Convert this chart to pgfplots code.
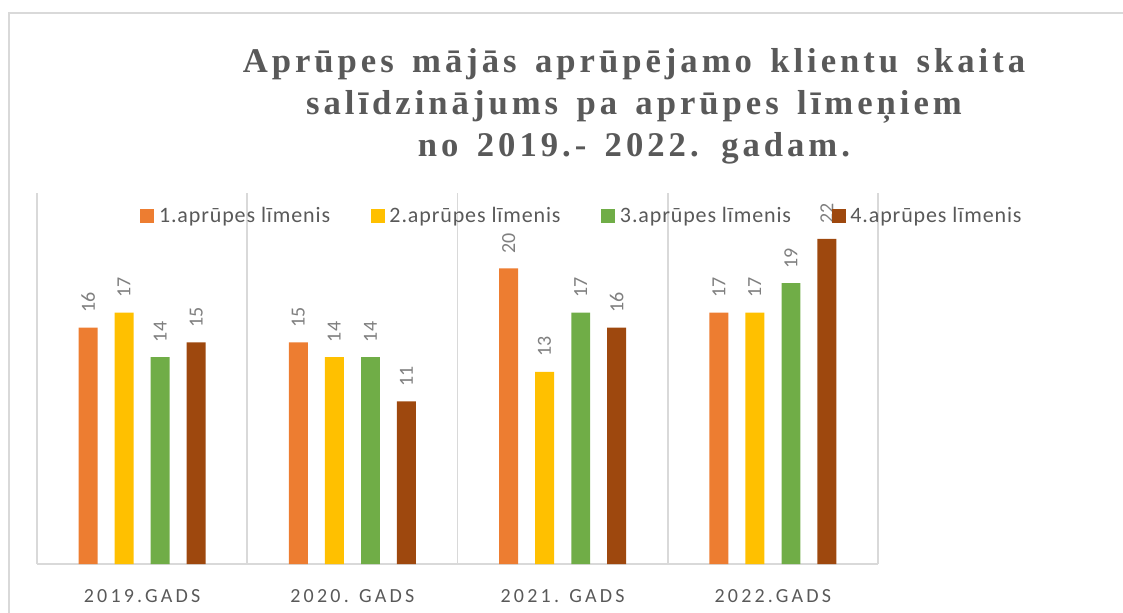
\documentclass[border=0pt]{standalone}
\usepackage{fontspec}
\setmainfont{Carlito}
\newfontfamily\titlefont[LetterSpace=11.5, WordSpace=1.45]{Liberation Serif}
\newfontfamily\legfont[LetterSpace=4]{Carlito}
\newfontfamily\xfont[LetterSpace=16]{Carlito}
\usepackage{pgfplots}
\pgfplotsset{compat=1.18}

\definecolor{cOrange}{HTML}{ED7D31}
\definecolor{cGold}{HTML}{FFC000}
\definecolor{cGreen}{HTML}{70AD47}
\definecolor{cBrown}{HTML}{9E480E}
\definecolor{cGrid}{HTML}{D9D9D9}
\definecolor{cText}{HTML}{595959}
\definecolor{cLabel}{HTML}{7F7F7F}

\pgfplotsset{
  mybar/.style={ybar, bar width=0.09, bar shift=0pt, draw=none,
    legend image code/.code={\fill[##1] (0pt,-5.25pt) rectangle (10.5pt,5.25pt);}},
}

\begin{document}
\begin{tikzpicture}
\useasboundingbox (0,0) rectangle (842.25pt,459pt);
% outer chart border (continues past the right and bottom edges)
\draw[cGrid, line width=1.5pt] (6.6pt,-10pt) -- (6.6pt,449.5pt) -- (860pt,449.5pt);

\node[align=center, text=cText, font=\titlefont\bfseries\fontsize{26}{31.5}\selectfont]
  at (475.5pt,379pt)
  {Aprūpes mājās aprūpējamo klientu skaita\\salīdzinājums pa aprūpes līmeņiem\\no 2019.- 2022. gadam.};

\begin{axis}[
  at={(27.75pt,36pt)}, anchor=south west,
  scale only axis, width=630.75pt, height=278.25pt,
  xmin=-0.5, xmax=3.5, ymin=0, ymax=25.1,
  axis x line*=bottom, axis y line=none,
  x axis line style={-, draw=cGrid, line width=1.5pt},
  xtick={0,1,2,3},
  xticklabels={2019.GADS, 2020. GADS, 2021. GADS, 2022.GADS},
  major tick length=0pt, minor tick length=0pt,
  minor xtick={-0.5,0.5,1.5,2.5,3.5},
  xminorgrids, minor grid style={draw=cGrid, line width=1.2pt},
  xticklabel style={font=\xfont\fontsize{15}{18}\selectfont, text=cText,
    anchor=base, yshift=-28.5pt, inner sep=0pt},
  /pgf/number format/assume math mode=true,
  nodes near coords={\pgfmathprintnumber{\pgfplotspointmeta}},
  point meta=y,
  every node near coord/.append style={rotate=90, anchor=west,
    inner xsep=11pt, inner ysep=0pt,
    font=\fontsize{15}{18}\selectfont, text=cLabel},
  legend style={at={(axis description cs:0.648,0.939)}, anchor=center,
    draw=none, fill=none, legend columns=4,
    font=\legfont\fontsize{16.5}{20}\selectfont, text=cText,
    nodes={inner xsep=1.5pt},
    /tikz/every odd column/.append style={column sep=2pt},
    /tikz/every even column/.append style={column sep=29pt}},
]
% bars sit at group centre 0,1,2,3 plus their offset in the group
\addplot[mybar, fill=cOrange] coordinates {(-0.257,16) (0.743,15) (1.743,20) (2.743,17)};
\addlegendentry{1.aprūpes līmenis}
\addplot[mybar, fill=cGold] coordinates {(-0.086,17) (0.914,14) (1.914,13) (2.914,17)};
\addlegendentry{2.aprūpes līmenis}
\addplot[mybar, fill=cGreen] coordinates {(0.086,14) (1.086,14) (2.086,17) (3.086,19)};
\addlegendentry{3.aprūpes līmenis}
\addplot[mybar, fill=cBrown] coordinates {(0.257,15) (1.257,11) (2.257,16) (3.257,22)};
\addlegendentry{4.aprūpes līmenis}
\end{axis}
\end{tikzpicture}
\end{document}
